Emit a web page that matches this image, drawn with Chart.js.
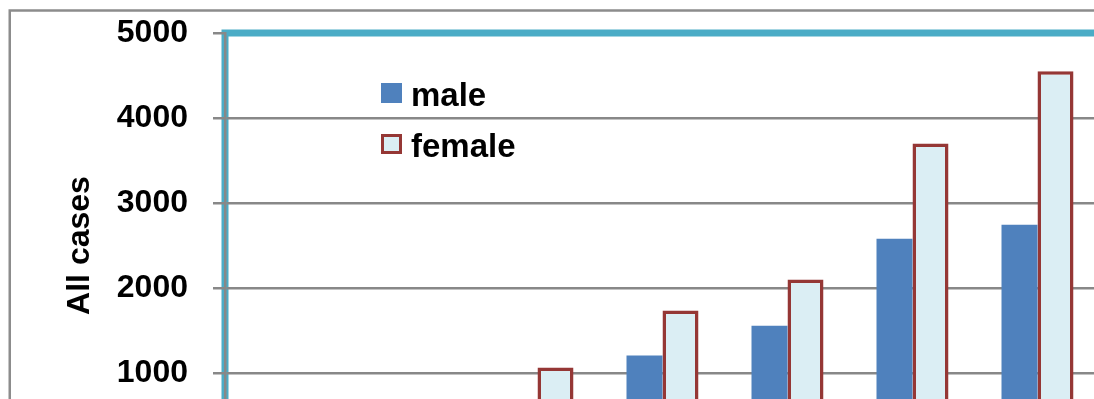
<!DOCTYPE html>
<html>
<head>
<meta charset="utf-8">
<script src="https://cdn.jsdelivr.net/npm/chart.js@4.4.1/dist/chart.umd.min.js"></script>
<style>
  html, body { margin: 0; padding: 0; background: #fff; overflow: hidden; }
  canvas { display: block; }
</style>
</head>
<body>
<canvas id="chart" width="1120" height="518"></canvas>
<script>
// Cases by age band and sex
const ageGroups   = ["0-14", "15-29", "30-44", "45-54", "55-64", "65-74", "75+"];
const maleCases   = [150, 380, 620, 1205, 1555, 2580, 2745];
const femaleCases = [210, 520, 1065, 1735, 2100, 3700, 4550];
const yTickValues = [0, 1000, 2000, 3000, 4000, 5000];
const seriesNames = ["male", "female"];

const FONT = "'Liberation Sans', Arial, sans-serif";
const GRID = "#888888";
const PAD_LEFT = 30;

Chart.defaults.font.family = FONT;

// Outer chart frame and the cyan plot-area border, drawn beneath the axes and bars
const framePlugin = {
  id: "frames",
  beforeDraw(chart) {
    const { ctx, chartArea: a } = chart;
    ctx.save();
    ctx.strokeStyle = "#8c8c8c";
    ctx.lineWidth = 2.5;
    ctx.strokeRect(9.75, 10.5, 3000, 3000);
    ctx.strokeStyle = "#4BACC6";
    ctx.lineWidth = 7;
    ctx.strokeRect(a.left, a.top, a.right - a.left, a.bottom - a.top);
    ctx.restore();
  }
};

// Vertical legend placed inside the plot area
const legendPlugin = {
  id: "insideLegend",
  afterDraw(chart) {
    const { ctx, chartArea: a } = chart;
    const x0 = a.left + 156, y0 = a.top + 50, rowGap = 51;
    ctx.save();
    ctx.font = "bold 33px " + FONT;
    ctx.textBaseline = "alphabetic";
    chart.data.datasets.forEach((ds, i) => {
      const y = y0 + i * rowGap;
      ctx.fillStyle = ds.backgroundColor;
      ctx.fillRect(x0, y, 21, 20);
      if (ds.borderWidth) {
        ctx.strokeStyle = ds.borderColor;
        ctx.lineWidth = 3;
        ctx.strokeRect(x0 + 1.5, y + 1.5, 18, 17);
      }
      ctx.fillStyle = "#000";
      ctx.fillText(ds.label, x0 + 30, y + 23);
    });
    ctx.restore();
  }
};

new Chart(document.getElementById("chart"), {
  type: "bar",
  data: {
    labels: ageGroups,
    datasets: [
      {
        label: seriesNames[0],
        data: maleCases,
        backgroundColor: "#4F81BD",
        borderWidth: 0,
        categoryPercentage: 0.576,
        barPercentage: 1.0
      },
      {
        label: seriesNames[1],
        data: femaleCases,
        backgroundColor: "#DBEEF4",
        borderColor: "#953735",
        borderWidth: 3.5,
        borderSkipped: false,
        categoryPercentage: 0.576,
        barPercentage: 1.0
      }
    ]
  },
  options: {
    responsive: false,
    animation: false,
    layout: { padding: { left: PAD_LEFT, top: 33, right: 20, bottom: 0 } },
    plugins: {
      legend: { display: false },
      tooltip: { enabled: false }
    },
    scales: {
      x: {
        afterFit(s) { s.height = 60; },
        grid: { display: false },
        border: { display: false },
        ticks: { color: "#000", font: { size: 24, weight: "bold" } }
      },
      y: {
        min: 0,
        max: 5000,
        afterBuildTicks(s) { s.ticks = yTickValues.map(v => ({ value: v })); },
        afterFit(s) { s.width = 225 - PAD_LEFT; },
        ticks: {
          color: "#000",
          padding: 25,
          font: { size: 32, weight: "bold", lineHeight: 0.4 },
          callback: v => String(v)
        },
        grid: {
          color: c => (c.tick && c.tick.value === 5000 ? "rgba(0,0,0,0)" : GRID),
          lineWidth: 2.5,
          tickLength: 12,
          tickColor: GRID,
          tickWidth: 2.5
        },
        border: { color: GRID, width: 2.5 },
        title: {
          display: true,
          text: "All cases",
          color: "#000",
          font: { size: 32, weight: "bold" },
          padding: { top: 31, bottom: 0 }
        }
      }
    }
  },
  plugins: [framePlugin, legendPlugin]
});
</script>
</body>
</html>
